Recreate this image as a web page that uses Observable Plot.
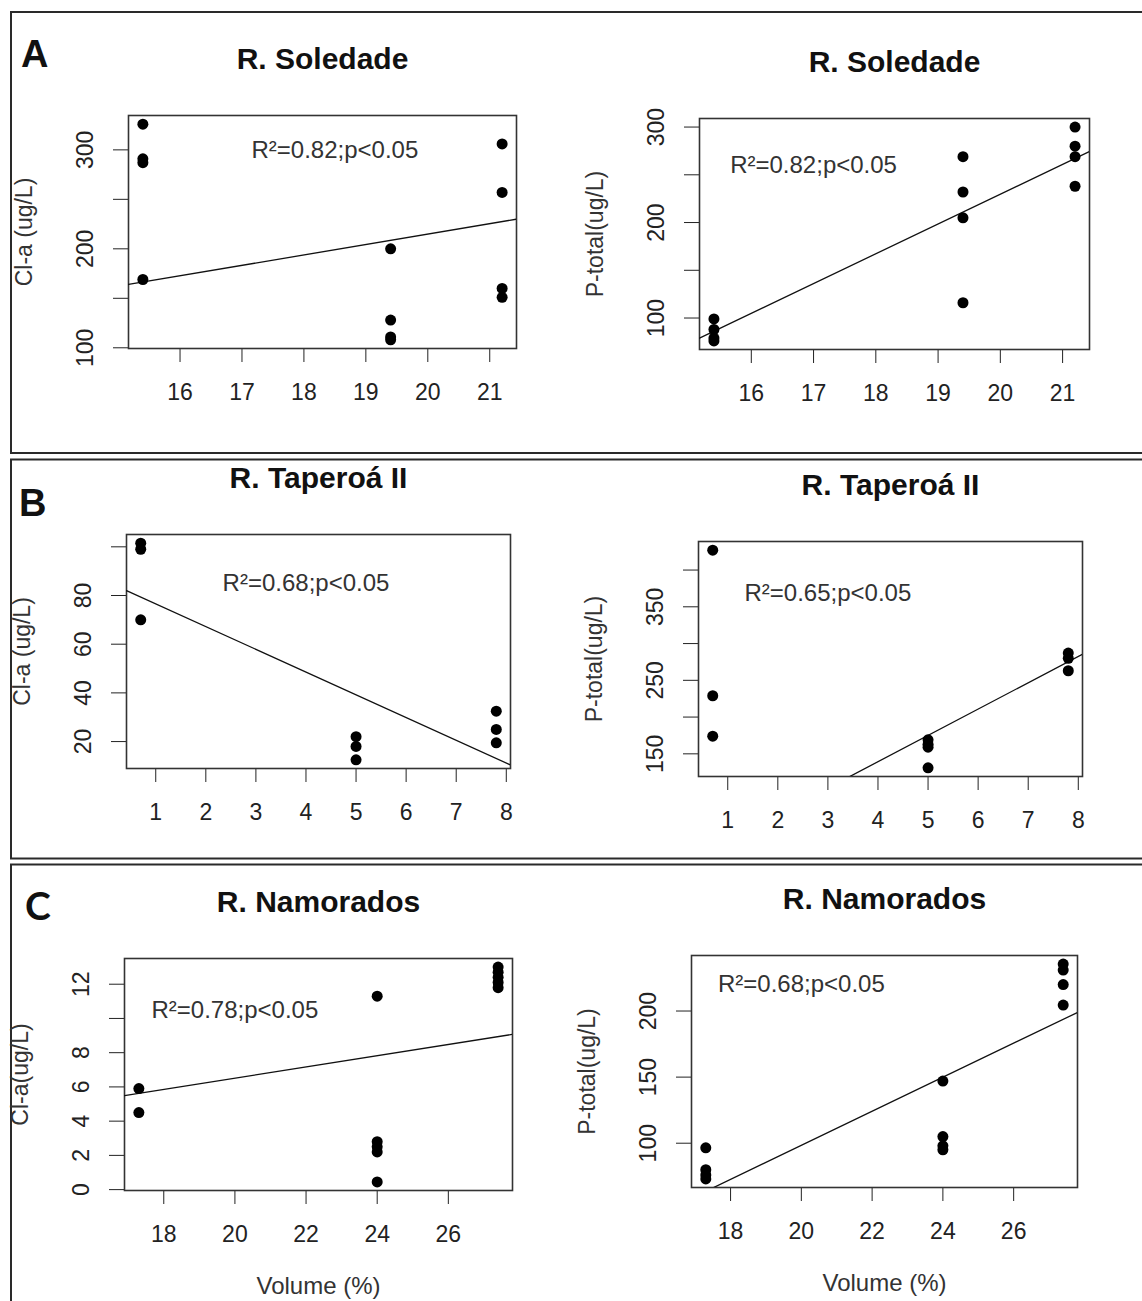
<!DOCTYPE html>
<html><head><meta charset="utf-8">
<script src="https://cdn.jsdelivr.net/npm/d3@7"></script>
<script src="https://cdn.jsdelivr.net/npm/@observablehq/plot@0.6"></script>
<style>
html,body{margin:0;padding:0;background:#fff;overflow:hidden;}
#root{position:relative;width:1142px;height:1301px;overflow:hidden;background:#fff;}
.panel{position:absolute;}
#overlay{position:absolute;left:0;top:0;}
</style></head><body><div id="root"></div>
<script>
// ---------- DATA ----------
// R. Soledade
const soledadeVolumeCla   = [15.4, 15.4, 15.4, 15.4, 19.4, 19.4, 19.4, 19.4, 21.2, 21.2, 21.2, 21.2];
const soledadeCla         = [326, 291, 287, 169, 200, 128, 111, 108, 306, 257, 160, 151];
const soledadeVolumePt    = [15.4, 15.4, 15.4, 15.4, 19.4, 19.4, 19.4, 19.4, 21.2, 21.2, 21.2, 21.2];
const soledadePtotal      = [99, 88, 79, 76, 269, 232, 205, 116, 300, 280, 269, 238];
// R. Taperoá II
const taperoaVolumeCla    = [0.7, 0.7, 0.7, 5, 5, 5, 7.8, 7.8, 7.8];
const taperoaCla          = [101.5, 99, 70, 22, 18, 12.5, 32.5, 25, 19.5];
const taperoaVolumePt     = [0.7, 0.7, 0.7, 5, 5, 5, 5, 7.8, 7.8, 7.8];
const taperoaPtotal       = [427, 229, 174, 169, 163, 159, 131, 287, 280, 263];
// R. Namorados
const namoradosVolumeCla  = [17.3, 17.3, 24, 24, 24, 24, 24, 27.4, 27.4, 27.4, 27.4, 27.4];
const namoradosCla        = [5.9, 4.5, 11.3, 2.8, 2.5, 2.2, 0.45, 13.0, 12.7, 12.4, 12.1, 11.8];
const namoradosVolumePt   = [17.3, 17.3, 17.3, 17.3, 24, 24, 24, 24, 27.4, 27.4, 27.4, 27.4];
const namoradosPtotal     = [96.5, 80, 76, 73, 147, 105, 98, 95, 235.5, 231, 220, 204.5];

// fitted lines (intercept, slope) as drawn in the figure
const fitIntercepts = [4.1, -394.3, 85.9, -3.9, -0.04, -159.2];
const fitSlopes     = [10.54, 31.2, -9.34, 35.8, 0.3276, 12.88];

// annotation texts and their positions (data units)
const statTexts = ["R²=0.82;p<0.05", "R²=0.82;p<0.05", "R²=0.68;p<0.05", "R²=0.65;p<0.05", "R²=0.78;p<0.05", "R²=0.68;p<0.05"];
const statX     = [18.5, 17, 4, 3, 20, 20];
const statY     = [300, 260, 85, 368, 10.5, 220];

// titles, axis labels
const panelTitles = ["R. Soledade", "R. Soledade", "R. Taperoá II", "R. Taperoá II", "R. Namorados", "R. Namorados"];
const yLabels     = ["Cl-a (ug/L)", "P-total(ug/L)", "Cl-a (ug/L)", "P-total(ug/L)", "Cl-a(ug/L)", "P-total(ug/L)"];
const xLabels     = ["", "", "", "", "Volume (%)", "Volume (%)"];
const panelLetters = ["A", "B", "C"];

// tick values
const xTicksSoledade  = [16, 17, 18, 19, 20, 21];
const xTicksTaperoa   = [1, 2, 3, 4, 5, 6, 7, 8];
const xTicksNamorados = [18, 20, 22, 24, 26];
const yTicks = [
  [100, 150, 200, 250, 300], [100, 150, 200, 250, 300],
  [20, 40, 60, 80, 100], [150, 200, 250, 300, 350, 400],
  [0, 2, 4, 6, 8, 10, 12], [100, 150, 200]
];
const yTickLabels = [
  [100, 200, 300], [100, 200, 300],
  [20, 40, 60, 80], [150, 250, 350],
  [0, 2, 4, 6, 8, 12], [100, 150, 200]
];

// ---------- LAYOUT ----------
const frames = [
  {left: 128, right: 516, top: 115, bottom: 348},
  {left: 699, right: 1089, top: 118, bottom: 349},
  {left: 126, right: 510, top: 534, bottom: 768},
  {left: 698, right: 1082, top: 541, bottom: 776},
  {left: 124, right: 512, top: 958, bottom: 1190},
  {left: 691, right: 1077, top: 955, bottom: 1187}
];

const series = [
  [soledadeVolumeCla, soledadeCla], [soledadeVolumePt, soledadePtotal],
  [taperoaVolumeCla, taperoaCla], [taperoaVolumePt, taperoaPtotal],
  [namoradosVolumeCla, namoradosCla], [namoradosVolumePt, namoradosPtotal]
];
const xTicksList = [xTicksSoledade, xTicksSoledade, xTicksTaperoa, xTicksTaperoa, xTicksNamorados, xTicksNamorados];

const root = document.getElementById("root");

// outer boxes and panel letters
const ov = d3.select(root).append("svg").attr("id", "overlay").attr("width", 1142).attr("height", 1301);
const boxes = [[12, 453], [459.5, 858.5], [864.5, 1500]];
boxes.forEach(([t, b]) => {
  ov.append("rect").attr("x", 11).attr("y", t).attr("width", 1200).attr("height", b - t)
    .attr("fill", "none").attr("stroke", "#2a2a2a").attr("stroke-width", 2);
});
const letterPos = [
  [21, 67, "'Liberation Sans', Arial, sans-serif", 38],
  [19, 516, "'Liberation Sans', Arial, sans-serif", 38],
  [25, 920, "Lato, 'Open Sans', sans-serif", 39]
];
panelLetters.forEach((L, i) => {
  ov.append("text").attr("x", letterPos[i][0]).attr("y", letterPos[i][1])
    .attr("font-family", letterPos[i][2]).attr("font-weight", "bold").attr("font-size", letterPos[i][3])
    .attr("fill", "#111").text(L);
});

function padDomain(v) {
  const lo = d3.min(v), hi = d3.max(v), r = hi - lo;
  return [lo - 0.04 * r, hi + 0.04 * r];
}

frames.forEach((f, i) => {
  const [xs, ys] = series[i];
  const rows = xs.map((x, j) => ({x, y: ys[j]}));
  const xd = padDomain(xs), yd = padDomain(ys);
  const fit = xd.map(x => ({x, y: fitIntercepts[i] + fitSlopes[i] * x}));
  const isLeft = i % 2 === 0;
  const svgLeft = isLeft ? 0 : 570;
  const width = isLeft ? 570 : 572;
  const mTop = 110, mBottom = 125;
  const top = f.top - mTop;
  const height = f.bottom - f.top + mTop + mBottom;
  const labeled = new Set(yTickLabels[i]);
  const marks = [
    Plot.frame({stroke: "#333", strokeWidth: 1.6}),
    Plot.line(fit, {x: "x", y: "y", stroke: "#111", strokeWidth: 1.3, clip: true}),
    Plot.dot(rows, {x: "x", y: "y", r: 5.5, fill: "#000", stroke: "none"}),
    Plot.text([{x: statX[i], y: statY[i], t: statTexts[i]}], {x: "x", y: "y", text: "t", fontSize: 24, fill: "#333"}),
    Plot.text([panelTitles[i]], {frameAnchor: "top", dy: -47, lineAnchor: "bottom", textAnchor: "middle", text: d => d, fontSize: 30, fontWeight: "bold", fill: "#111"}),
    Plot.text([yLabels[i]], {frameAnchor: "left", dx: -104, rotate: -90, lineAnchor: "middle", textAnchor: "middle", text: d => d, fontSize: 23, fill: "#333"})
  ];
  if (xLabels[i]) {
    marks.push(Plot.text([xLabels[i]], {frameAnchor: "bottom", dy: 86, lineAnchor: "top", textAnchor: "middle", text: d => d, fontSize: 24, fill: "#333"}));
  }
  const chart = Plot.plot({
    width, height,
    marginLeft: f.left - svgLeft,
    marginRight: svgLeft + width - f.right,
    marginTop: mTop, marginBottom: mBottom,
    style: {background: "transparent", fontFamily: "'Liberation Sans', Arial, sans-serif", fontSize: "23px", color: "#222", overflow: "visible"},
    x: {domain: xd, ticks: xTicksList[i], tickSize: 14, tickPadding: 21, tickFormat: d => String(d), label: null},
    y: {domain: yd, ticks: yTicks[i], tickSize: 15, tickPadding: 21, tickRotate: -90, tickFormat: d => labeled.has(d) ? String(d) : "", label: null},
    marks
  });
  const div = document.createElement("div");
  div.className = "panel";
  div.style.left = svgLeft + "px";
  div.style.top = top + "px";
  div.style.width = width + "px";
  div.appendChild(chart);
  root.appendChild(div);
});
</script></body></html>
